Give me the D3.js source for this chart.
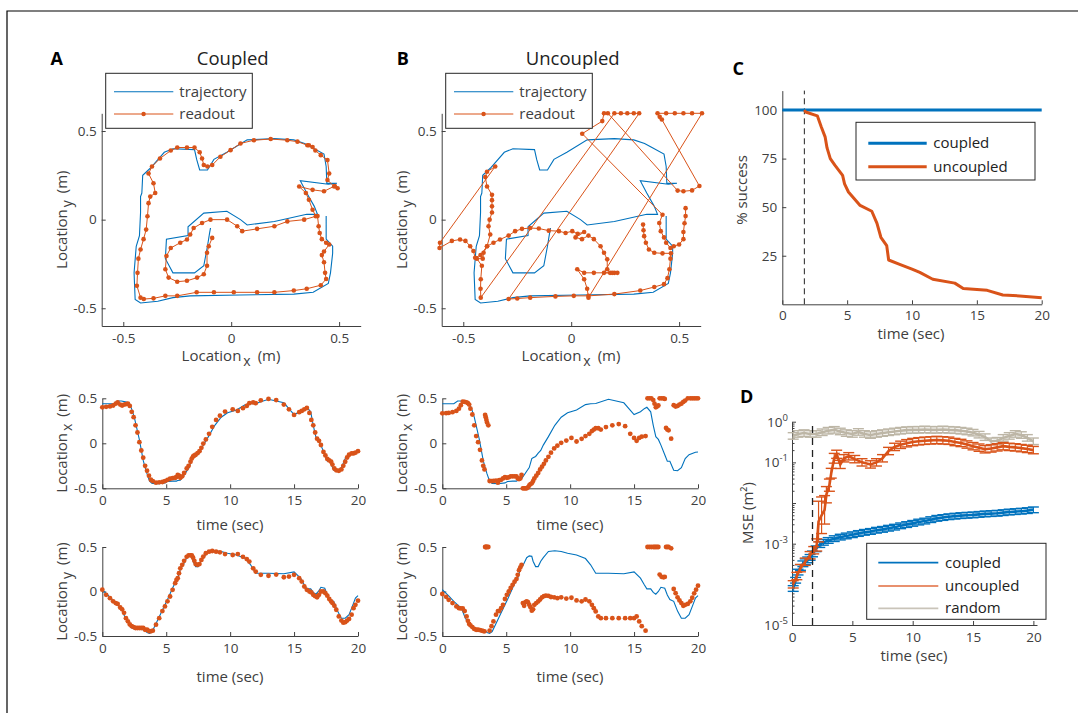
<!DOCTYPE html>
<html>
<head>
<meta charset="utf-8">
<script src="https://cdn.jsdelivr.net/npm/d3@7"></script>
<style>
  body { margin: 0; background: #fff; }
  svg { display: block; }
</style>
</head>
<body>
<svg id="fig" width="1078" height="713"></svg>
<script>
// ---- data ----
// rows are [time (s), x (m), y (m)]
const trajectory = [
  [0,0.44,0.02],[0.5,0.44,-0.05],[0.9,0.44,-0.11],[1.2,0.47,-0.15],[1.5,0.47,-0.19],[1.8,0.46,-0.30],
  [2.1,0.45,-0.36],[2.3,0.38,-0.41],[2.5,0.29,-0.42],[2.9,0.04,-0.425],[3.2,-0.19,-0.43],[3.35,-0.27,-0.44],
  [3.5,-0.34,-0.46],[3.7,-0.42,-0.47],[3.9,-0.445,-0.45],[4.4,-0.45,-0.30],[4.9,-0.44,-0.15],[5.1,-0.425,-0.09],
  [5.5,-0.42,0.04],[5.8,-0.42,0.13],[5.9,-0.414,0.15],[6.1,-0.41,0.25],[6.3,-0.375,0.29],[6.6,-0.31,0.38],
  [6.8,-0.27,0.40],[7.0,-0.17,0.395],[7.1,-0.16,0.34],[7.3,-0.146,0.28],[7.5,-0.11,0.28],[7.7,-0.08,0.34],
  [7.9,-0.02,0.38],[8.3,0.074,0.45],[8.8,0.2,0.457],[9.3,0.29,0.45],[9.8,0.34,0.43],[10.5,0.37,0.41],
  [11.2,0.43,0.37],[11.6,0.44,0.30],[12.0,0.443,0.205],[13.0,0.49,0.205],[14.2,0.45,0.2],[15.0,0.32,0.22],
  [15.5,0.35,0.15],[15.8,0.385,0.075],[16.0,0.4,0.03],[16.3,0.35,0.03],[16.5,0.2,-0.01],
  [16.7,0.074,-0.03],[16.9,0.043,0.0],[17.1,-0.02,0.047],[17.4,-0.127,0.037],[17.6,-0.2,-0.04],[17.8,-0.2,-0.09],
  [18.1,-0.3,-0.11],[18.4,-0.305,-0.22],[18.7,-0.27,-0.30],[19.0,-0.17,-0.30],[19.3,-0.127,-0.26],
  [19.6,-0.11,-0.15],[19.8,-0.1,-0.075],[20.0,-0.096,-0.047]
];

const readoutCoupled = [
  [0,0.4,0.02],[0.3,0.405,-0.037],[0.6,0.41,-0.075],[0.85,0.42,-0.11],[1.05,0.44,-0.13],[1.2,0.454,-0.14],
  [1.4,0.43,-0.18],[1.55,0.42,-0.2],[1.7,0.43,-0.24],[1.85,0.435,-0.3],[2.0,0.44,-0.335],[2.15,0.415,-0.37],
  [2.3,0.35,-0.39],[2.45,0.29,-0.40],[2.6,0.2,-0.41],[2.75,0.12,-0.41],[2.9,0.012,-0.41],[3.05,-0.08,-0.41],
  [3.2,-0.16,-0.41],[3.35,-0.25,-0.43],[3.5,-0.305,-0.43],[3.65,-0.36,-0.444],[3.8,-0.405,-0.448],[3.95,-0.42,-0.44],
  [4.2,-0.437,-0.373],[4.45,-0.434,-0.3],[4.7,-0.43,-0.22],[4.9,-0.42,-0.168],[5.1,-0.406,-0.11],[5.3,-0.394,-0.056],
  [5.5,-0.388,0.019],[5.7,-0.383,0.093],[5.8,-0.375,0.13],[5.9,-0.352,0.15],[6.0,-0.36,0.205],[6.1,-0.383,0.26],
  [6.25,-0.367,0.3],[6.4,-0.33,0.345],[6.6,-0.28,0.39],[6.75,-0.25,0.407],[6.9,-0.205,0.407],[7.0,-0.17,0.407],
  [7.1,-0.146,0.38],[7.2,-0.135,0.345],[7.3,-0.127,0.308],[7.45,-0.11,0.3],[7.6,-0.088,0.308],[7.75,-0.05,0.355],
  [7.9,-0.003,0.392],[8.1,0.043,0.43],[8.35,0.105,0.448],[8.6,0.183,0.455],[8.9,0.26,0.448],[9.2,0.307,0.44],
  [9.6,0.353,0.42],[10.2,0.377,0.41],[10.6,0.36,0.42],[11.0,0.39,0.39],[11.3,0.415,0.364],[11.5,0.446,0.336],
  [11.8,0.454,0.26],[12.0,0.446,0.224],[12.4,0.477,0.187],[13.0,0.493,0.177],[13.6,0.48,0.19],[14.2,0.43,0.16],
  [14.6,0.377,0.168],[15.0,0.315,0.187],[15.4,0.346,0.15],[15.6,0.36,0.112],[15.8,0.377,0.056],[16.0,0.392,0.019],
  [16.2,0.338,0],[16.35,0.26,-0.01],[16.5,0.2,-0.037],[16.65,0.12,-0.052],[16.8,0.051,-0.065],[16.95,0.028,-0.037],
  [17.1,-0.019,0],[17.3,-0.096,0],[17.45,-0.135,-0.019],[17.6,-0.174,-0.047],[17.75,-0.19,-0.084],[17.9,-0.205,-0.112],
  [18.0,-0.236,-0.13],[18.15,-0.28,-0.16],[18.3,-0.3,-0.205],[18.5,-0.305,-0.28],[18.7,-0.29,-0.327],[18.85,-0.25,-0.35],
  [19.0,-0.205,-0.345],[19.15,-0.158,-0.327],[19.3,-0.127,-0.308],[19.5,-0.112,-0.26],[19.65,-0.112,-0.187],
  [19.8,-0.104,-0.15],[20.0,-0.088,-0.103]
];

const readoutUncoupled = [
  [0,0.333,-0.028],[0.3,0.335,-0.06],[0.5,0.338,-0.093],[0.8,0.346,-0.13],[1.1,0.36,-0.168],[1.3,0.385,-0.187],
  [1.45,0.423,-0.19],[1.6,0.462,-0.19],[1.75,0.46,-0.22],[1.9,0.455,-0.28],[2.0,0.446,-0.33],[2.1,0.43,-0.364],
  [2.2,0.385,-0.38],[2.35,0.32,-0.40],[2.5,0.2,-0.42],[2.65,0.08,-0.43],[2.8,0.012,-0.43],[2.95,-0.073,-0.433],
  [3.1,-0.19,-0.44],[3.2,-0.25,-0.445],[3.3,-0.29,-0.448],
  [3.35,0.315,0.6],[3.4,0.29,0.6],[3.45,0.26,0.6],[3.5,0.23,0.6],[3.6,0.2,0.6],
  [3.7,-0.419,-0.44],[3.85,-0.42,-0.39],[4.0,-0.419,-0.336],[4.2,-0.414,-0.26],[4.35,-0.437,-0.22],[4.45,-0.41,-0.22],
  [4.6,-0.406,-0.187],[4.75,-0.39,-0.15],[4.9,-0.375,-0.084],[5.05,-0.383,-0.037],[5.2,-0.378,0.0],[5.35,-0.367,0.04],
  [5.5,-0.367,0.075],[5.65,-0.367,0.11],[5.8,-0.367,0.14],[5.9,-0.39,0.187],[6.0,-0.398,0.24],[6.1,-0.39,0.27],
  [6.2,-0.352,0.3],
  [6.3,-0.608,-0.13],[6.4,-0.61,-0.16],[6.5,-0.553,-0.12],[6.6,-0.515,-0.112],[6.7,-0.49,-0.12],[6.8,-0.468,-0.15],
  [6.9,-0.453,-0.177],[7.0,-0.445,-0.215],[7.1,-0.42,-0.2],[7.2,-0.39,-0.15],[7.35,-0.36,-0.13],[7.5,-0.33,-0.112],
  [7.65,-0.29,-0.09],[7.8,-0.26,-0.065],[7.95,-0.228,-0.052],[8.1,-0.19,-0.047],[8.3,-0.15,-0.05],[8.5,-0.104,-0.062],
  [8.75,-0.057,-0.065],[9.0,-0.026,-0.075],[9.3,0.005,-0.065],[9.7,0.03,-0.08],[10.1,0.06,-0.07],[10.5,0.02,-0.1],
  [10.9,0.05,-0.11],[11.2,0.08,-0.09],[11.5,0.105,-0.11],[11.7,0.136,-0.15],[11.85,0.152,-0.187],[12.0,0.167,-0.224],
  [12.2,0.167,-0.28],[12.4,0.152,-0.3],[12.8,0.18,-0.3],[13.3,0.2,-0.3],[13.8,0.214,-0.3],[14.3,0.19,-0.3],
  [14.7,0.105,-0.3],[15.0,0.06,-0.3],[15.2,0.028,-0.28],[15.4,0.06,-0.336],[15.6,0.074,-0.39],[15.9,0.08,-0.44],
  [16.05,0.606,0.6],[16.2,0.56,0.6],[16.35,0.52,0.6],[16.5,0.48,0.6],[16.6,0.44,0.6],[16.7,0.40,0.6],
  [16.8,0.41,0.58],[16.9,0.42,0.565],
  [17.0,0.594,0.19],[17.15,0.56,0.165],[17.3,0.52,0.16],[17.4,0.493,0.164],
  [17.5,0.17,0.6],[17.6,0.152,0.6],[17.7,0.144,0.556],[17.9,0.051,0.485],
  [18.1,0.423,0.028],[18.25,0.408,-0.019],[18.4,0.415,-0.065],[18.55,0.43,-0.1],[18.7,0.44,-0.13],[18.85,0.46,-0.16],
  [19.0,0.475,-0.15],[19.2,0.5,-0.14],[19.4,0.52,-0.11],[19.55,0.52,-0.07],[19.7,0.525,-0.02],[19.85,0.53,0.02],
  [20.0,0.53,0.065]
];

// panel C: % success
const successTimeCoupled = [0, 20];
const successCoupled = [100, 100];
const successTimeUncoupled = [1.7,1.8,2.7,3.0,3.3,3.45,3.7,4.05,4.65,4.8,5.1,6.0,6.9,7.3,7.6,8.05,8.2,9.0,10.0,10.6,11.6,13.3,13.95,15.8,17.0,18.3,20];
const successUncoupled = [100,99,97,91.4,86.2,80.5,75,71.6,66.4,62,57.8,50.9,47.9,41.7,34.5,30.2,22.8,20.7,18.1,16.4,12.9,10.9,8.1,7.2,4.8,4.3,3.4];
const cueTime = 1.7;

// panel D: MSE (m^2); spreads are half-widths of the error bars in decades
const mseTimeCoupled = [0.1,0.3,0.5,0.7,0.9,1.1,1.3,1.5,1.7,2.0,2.3,2.6,3.0,3.5,4.0,4.5,5.0,5.5,6.0,6.5,7.0,7.5,8.0,8.5,9.0,9.5,10,10.5,11,11.5,12,12.5,13,13.5,14,14.5,15,15.5,16,16.5,17,17.5,18,18.5,19,19.5,20];
const mseCoupled = [7.9e-5,1.26e-4,2.0e-4,2.6e-4,3.2e-4,3.6e-4,4.0e-4,4.6e-4,5.6e-4,7.5e-4,9.5e-4,1.08e-3,1.2e-3,1.33e-3,1.45e-3,1.55e-3,1.66e-3,1.78e-3,1.9e-3,2.0e-3,2.14e-3,2.25e-3,2.4e-3,2.55e-3,2.75e-3,2.95e-3,3.16e-3,3.4e-3,3.6e-3,3.9e-3,4.2e-3,4.4e-3,4.6e-3,4.75e-3,4.9e-3,5.0e-3,5.1e-3,5.25e-3,5.4e-3,5.5e-3,5.6e-3,5.8e-3,6.0e-3,6.15e-3,6.3e-3,6.5e-3,6.8e-3];
const mseSpreadCoupled = 0.07;

const mseTimeUncoupled = [0.1,0.4,0.7,1.1,1.5,1.8,2.05,2.2,2.45,2.7,2.85,3.1,3.25,3.5,3.7,4.0,4.3,4.7,5.2,5.8,6.5,7.0,7.5,8.0,8.5,9,9.5,10,10.5,11,11.5,12,12.5,13,13.5,14,14.5,15,15.5,16,16.5,17,17.5,18,18.5,19,19.5,20];
const mseUncoupled = [1e-4,1.6e-4,2.5e-4,3.6e-4,5.2e-4,6.9e-4,9.3e-4,3.5e-3,5e-3,6.8e-3,0.016,0.0275,0.054,0.126,0.158,0.089,0.126,0.141,0.12,0.1,0.089,0.1,0.126,0.19,0.24,0.27,0.295,0.316,0.33,0.34,0.347,0.355,0.347,0.34,0.316,0.3,0.275,0.25,0.23,0.21,0.22,0.234,0.25,0.24,0.234,0.224,0.214,0.2];
const mseSpreadUncoupled = [0.09,0.09,0.09,0.09,0.09,0.09,0.15,0.5,0.45,0.35,0.2,0.15,0.12,0.12,0.1,0.1,0.09,0.09,0.09,0.09,0.09,0.09,0.09,0.09,0.09,0.09,0.09,0.09,0.09,0.09,0.09,0.09,0.09,0.09,0.09,0.09,0.09,0.09,0.09,0.09,0.09,0.09,0.09,0.09,0.09,0.09,0.09,0.09];

const mseTimeRandom = [0.1,0.5,1,1.5,2,2.5,3,3.5,4,4.5,5,5.5,6,6.5,7,7.5,8,8.5,9,9.5,10,10.5,11,11.5,12,12.5,13,13.5,14,14.5,15,15.5,16,16.5,17,17.5,18,18.5,19,19.5,20];
const mseRandom = [0.447,0.5,0.525,0.5,0.5,0.55,0.6,0.63,0.575,0.525,0.5,0.56,0.5,0.47,0.5,0.525,0.55,0.575,0.6,0.62,0.63,0.63,0.645,0.63,0.63,0.645,0.63,0.62,0.6,0.575,0.537,0.48,0.417,0.33,0.34,0.4,0.447,0.5,0.47,0.4,0.33];
const mseSpreadRandom = 0.08;

// ---- drawing ----
const svg = d3.select("#fig");
const font = "'Open Sans', 'DejaVu Sans', sans-serif";
const ink = "#404040";
const blue = "#0072BD", orange = "#D95319", sand = "#BDB6A6";

svg.append("path")
  .attr("d", "M7,713V11H1078")
  .attr("fill", "none").attr("stroke", "#000").attr("stroke-width", 1.2);

function txt(x, y, s, size, opts = {}) {
  return svg.append("text")
    .attr("x", x).attr("y", y)
    .attr("font-family", font).attr("font-size", size)
    .attr("fill", opts.fill || ink)
    .attr("font-weight", opts.bold ? "bold" : null)
    .attr("text-anchor", opts.anchor || "middle")
    .text(s);
}

function styleAxis(g) {
  g.select(".domain").attr("stroke", ink).attr("stroke-width", 1);
  g.selectAll(".tick line").attr("stroke", ink);
  g.selectAll(".tick text").attr("fill", ink).attr("font-size", 13.5).attr("font-family", font);
}

function drawAxes(x, y, xTicks, yTicks, xPad = 7, yPad = 5) {
  const gx = svg.append("g")
    .attr("transform", `translate(0,${y.range()[0]})`)
    .call(d3.axisBottom(x).tickValues(xTicks).tickFormat(d => String(d))
      .tickSizeInner(-4).tickSizeOuter(0).tickPadding(xPad));
  styleAxis(gx);
  const gy = svg.append("g")
    .attr("transform", `translate(${x.range()[0]},0)`)
    .call(d3.axisLeft(y).tickValues(yTicks).tickFormat(d => String(d))
      .tickSizeInner(-4).tickSizeOuter(0).tickPadding(yPad));
  styleAxis(gy);
  return gy;
}

// "Location_x (m)" style labels
function locationLabel(x, y, sub, rotate) {
  const t = svg.append("text")
    .attr("transform", rotate ? `translate(${x},${y}) rotate(-90)` : `translate(${x},${y})`)
    .attr("font-family", font).attr("font-size", 15).attr("fill", ink)
    .attr("text-anchor", "middle");
  t.append("tspan").text("Location");
  t.append("tspan").attr("dy", 5).attr("dx", 2).attr("font-size", 14).text(sub);
  t.append("tspan").attr("dy", -5).attr("dx", 7).text("(m)");
}

const ticks2d = [-0.5, 0, 0.5];
const timeTicks = [0, 5, 10, 15, 20];

function trackPanel(dx, readout, title, letter) {
  const x = d3.scaleLinear().domain([-0.6, 0.6]).range([101.7 + dx, 360.7 + dx]);
  const y = d3.scaleLinear().domain([-0.6, 0.6]).range([326, 113.3]);
  drawAxes(x, y, ticks2d, ticks2d, 7, 5);

  svg.append("path").datum(trajectory)
    .attr("d", d3.line().x(d => x(d[1])).y(d => y(d[2])))
    .attr("fill", "none").attr("stroke", blue).attr("stroke-width", 1.1);
  svg.append("path").datum(readout)
    .attr("d", d3.line().x(d => x(d[1])).y(d => y(d[2])))
    .attr("fill", "none").attr("stroke", orange).attr("stroke-width", 1);
  svg.append("g").selectAll("circle").data(readout).join("circle")
    .attr("cx", d => x(d[1])).attr("cy", d => y(d[2])).attr("r", 2.3)
    .attr("fill", orange);

  locationLabel(67 + dx, 219.7, "y", true);
  locationLabel(231 + dx, 361, "x", false);

  txt(232.7 + dx, 65, title, 18.5, { fill: "#222" });
  txt(56.7 + (dx ? dx + 6 : 0), 64.5, letter, 18, { bold: true, fill: "#000" });

  // legend
  const lg = svg.append("g");
  lg.append("rect").attr("x", 105.7 + dx).attr("y", 73.3).attr("width", 146.6).attr("height", 55)
    .attr("fill", "#fff").attr("stroke", "#262626").attr("stroke-width", 1);
  lg.append("line").attr("x1", 114 + dx).attr("x2", 173.3 + dx).attr("y1", 91.7).attr("y2", 91.7)
    .attr("stroke", blue).attr("stroke-width", 1.1);
  lg.append("line").attr("x1", 114 + dx).attr("x2", 173.3 + dx).attr("y1", 114).attr("y2", 114)
    .attr("stroke", orange).attr("stroke-width", 1);
  lg.append("circle").attr("cx", 143.6 + dx).attr("cy", 114).attr("r", 2.2).attr("fill", orange);
  txt(179.3 + dx, 96.7, "trajectory", 15, { anchor: "start" });
  txt(179.3 + dx, 119, "readout", 15, { anchor: "start" });
}

function seriesPanel(dx, top, bottom, readout, col, sub, labelY) {
  const x = d3.scaleLinear().domain([0, 20]).range([102.3 + dx, 358 + dx]);
  const y = d3.scaleLinear().domain([-0.5, 0.5]).range([bottom, top]).clamp(true);
  drawAxes(x, y, timeTicks, ticks2d, 7, 5);
  svg.append("path").datum(trajectory)
    .attr("d", d3.line().x(d => x(d[0])).y(d => y(d[col])))
    .attr("fill", "none").attr("stroke", blue).attr("stroke-width", 1.1);
  svg.append("g").selectAll("circle").data(readout).join("circle")
    .attr("cx", d => x(d[0])).attr("cy", d => y(d[col])).attr("r", 2.4)
    .attr("fill", orange);
  locationLabel(67 + dx, (top + bottom) / 2, sub, true);
  txt(230 + dx, labelY, "time (sec)", 15);
}

trackPanel(0, readoutCoupled, "Coupled", "A");
trackPanel(340, readoutUncoupled, "Uncoupled", "B");
seriesPanel(0, 398.3, 488.3, readoutCoupled, 1, "x", 530);
seriesPanel(0, 547, 636, readoutCoupled, 2, "y", 682);
seriesPanel(340, 398.3, 488.3, readoutUncoupled, 1, "x", 530);
seriesPanel(340, 547, 636, readoutUncoupled, 2, "y", 682);

// ---- panel C ----
{
  const x = d3.scaleLinear().domain([0, 20]).range([782.3, 1041.7]);
  const y = d3.scaleLinear().domain([0, 110]).range([304.3, 90.6]);
  drawAxes(x, y, timeTicks, [25, 50, 75, 100], 6, 5);
  svg.append("line").attr("x1", x(cueTime)).attr("x2", x(cueTime))
    .attr("y1", y(0)).attr("y2", y(110))
    .attr("stroke", "#222").attr("stroke-width", 1).attr("stroke-dasharray", "6,4");
  const line = d3.line().x(d => x(d[0])).y(d => y(d[1]));
  svg.append("path").datum(d3.zip(successTimeCoupled, successCoupled)).attr("d", line)
    .attr("fill", "none").attr("stroke", blue).attr("stroke-width", 3);
  svg.append("path").datum(d3.zip(successTimeUncoupled, successUncoupled)).attr("d", line)
    .attr("fill", "none").attr("stroke", orange).attr("stroke-width", 3).attr("stroke-linejoin", "round");

  svg.append("rect").attr("x", 856).attr("y", 122.3).attr("width", 179).attr("height", 57.7)
    .attr("fill", "#fff").attr("stroke", "#262626");
  [["coupled", blue, 143.3], ["uncoupled", orange, 166.7]].forEach(([name, c, ly]) => {
    svg.append("line").attr("x1", 868.3).attr("x2", 926.7).attr("y1", ly).attr("y2", ly)
      .attr("stroke", c).attr("stroke-width", 3);
    txt(933.3, ly + 5, name, 15, { anchor: "start", fill: "#222" });
  });
  svg.append("text").attr("transform", "translate(747,190) rotate(-90)")
    .attr("font-family", font).attr("font-size", 15).attr("fill", ink)
    .attr("text-anchor", "middle").text("% success");
  txt(911, 339, "time (sec)", 15);
  txt(738.3, 74.5, "C", 18, { bold: true, fill: "#000" });
}

// ---- panel D ----
{
  const x = d3.scaleLinear().domain([0, 20.3]).range([792, 1037]);
  const y = d3.scaleLog().domain([1e-5, 1]).range([625, 421.7]);
  const decades = [1e-5, 1e-4, 1e-3, 1e-2, 1e-1, 1];
  const labelled = [0, -1, -3, -5];
  const gy = drawAxes(x, y, timeTicks, decades, 7, 4);
  gy.selectAll(".tick text").each(function (d) {
    const e = Math.round(Math.log10(d));
    const t = d3.select(this).text("");
    if (labelled.includes(e)) {
      t.append("tspan").text("10");
      t.append("tspan").attr("dy", -6).attr("font-size", 9.5).text(String(e));
    }
  });
  const minor = [];
  for (let e = -5; e < 0; e++) for (let k = 2; k <= 9; k++) minor.push(k * Math.pow(10, e));
  const gm = svg.append("g").attr("transform", "translate(792,0)")
    .call(d3.axisLeft(y).tickValues(minor).tickFormat("").tickSizeInner(-2.5).tickSizeOuter(0));
  gm.select(".domain").remove();
  gm.selectAll(".tick line").attr("stroke", ink);

  function errSeries(times, vals, spread, color) {
    const rows = times.map((t, i) => ({
      t, v: vals[i], s: Array.isArray(spread) ? spread[i] : spread
    }));
    const g = svg.append("g").attr("stroke", color).attr("fill", "none");
    g.append("path").datum(rows)
      .attr("d", d3.line().x(d => x(d.t)).y(d => y(d.v)))
      .attr("stroke-width", 2.6);
    rows.forEach(d => {
      const lo = y(d.v / Math.pow(10, d.s)), hi = y(d.v * Math.pow(10, d.s)), cx = x(d.t);
      g.append("line").attr("x1", cx).attr("x2", cx).attr("y1", lo).attr("y2", hi).attr("stroke-width", 1.2);
      g.append("line").attr("x1", cx - 5.5).attr("x2", cx + 5.5).attr("y1", lo).attr("y2", lo).attr("stroke-width", 1.4);
      g.append("line").attr("x1", cx - 5.5).attr("x2", cx + 5.5).attr("y1", hi).attr("y2", hi).attr("stroke-width", 1.4);
    });
  }
  errSeries(mseTimeCoupled, mseCoupled, mseSpreadCoupled, blue);
  errSeries(mseTimeRandom, mseRandom, mseSpreadRandom, sand);
  errSeries(mseTimeUncoupled, mseUncoupled, mseSpreadUncoupled, orange);

  svg.append("line").attr("x1", x(cueTime)).attr("x2", x(cueTime))
    .attr("y1", y(1e-5)).attr("y2", y(1))
    .attr("stroke", "#222").attr("stroke-width", 1.3).attr("stroke-dasharray", "7,5");

  svg.append("rect").attr("x", 866.7).attr("y", 543.3).attr("width", 179.3).attr("height", 76)
    .attr("fill", "#fff").attr("stroke", "#262626");
  [["coupled", blue, 562.7], ["uncoupled", "#E8906E", 586], ["random", "#C9C4B9", 608.3]].forEach(([name, c, ly]) => {
    svg.append("line").attr("x1", 878.3).attr("x2", 938.3).attr("y1", ly).attr("y2", ly)
      .attr("stroke", c).attr("stroke-width", 1.8);
    txt(945, ly + 5, name, 15, { anchor: "start", fill: "#222" });
  });
  svg.append("text").attr("transform", "translate(753,513) rotate(-90)")
    .attr("font-family", font).attr("font-size", 15).attr("fill", ink)
    .attr("text-anchor", "middle").text("MSE (m²)");
  txt(914, 661, "time (sec)", 15);
  txt(746.7, 403, "D", 18, { bold: true, fill: "#000" });
}
</script>
</body>
</html>
